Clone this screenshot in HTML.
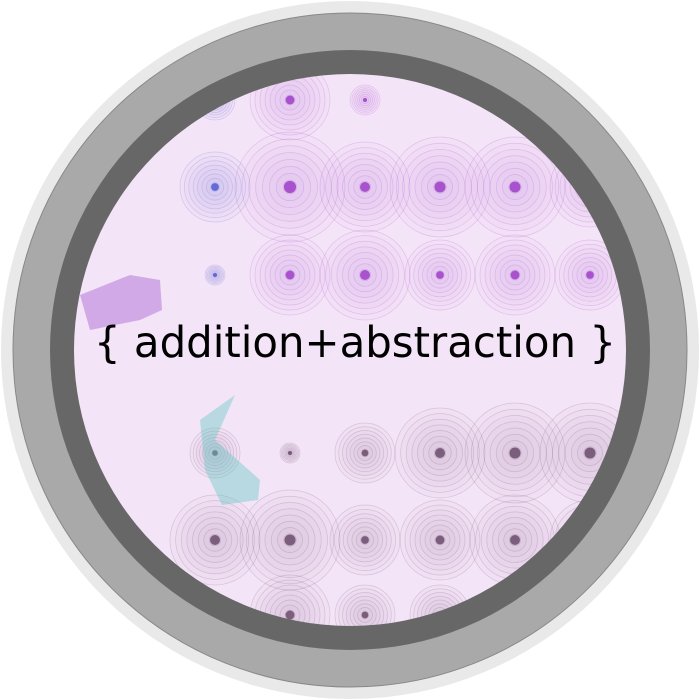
<!DOCTYPE html>
<html><head><meta charset="utf-8"><style>
html,body{margin:0;padding:0;background:#fff;width:700px;height:700px;overflow:hidden}
svg{display:block}
</style></head><body>
<svg id="art" width="700" height="700" viewBox="0 0 700 700" xmlns="http://www.w3.org/2000/svg">
<defs><clipPath id="inner"><circle cx="350" cy="350" r="276"/></clipPath></defs>
<circle cx="350" cy="350" r="349" fill="#e9e9e9"/>
<circle cx="350" cy="350" r="337" fill="#a9a9a9" stroke="#888" stroke-width="1"/>
<circle cx="350" cy="350" r="300" fill="#676767"/>
<circle cx="350" cy="350" r="276" fill="#f4e4f7"/>
<g id="marks" clip-path="url(#inner)"></g>
<text x="355" y="357" text-anchor="middle" textLength="522" lengthAdjust="spacingAndGlyphs" font-family="DejaVu Sans, Liberation Sans, sans-serif" font-size="43" fill="#000">{ addition+abstraction }</text>
</svg>
<script>
const cols=[215,290,365,440,515,590];
const rowsTop=[100,187,275];
const rowsBot=[453,540,615];
const topSizes=[[20,40,15,0,0,0],[35,55,45,50,50,40],[10,40,45,35,40,35]];
const botSizes=[[25,10,30,45,50,50],[45,50,35,40,45,40],[20,40,30,30,0,0]];
const g=document.getElementById('marks');
const NS='http://www.w3.org/2000/svg';
function ringSet(cx,cy,r,col,core){
  for(let k=1;k<=8;k++){
    const c=document.createElementNS(NS,'circle');
    
    
    c.setAttribute('cx',cx);c.setAttribute('cy',cy);c.setAttribute('r',r*k/8);
    c.setAttribute('fill',col);c.setAttribute('fill-opacity',0.025);
    c.setAttribute('stroke',col);c.setAttribute('stroke-opacity',0.22);c.setAttribute('stroke-width',0.7);
    g.appendChild(c);
  }
  const d=document.createElementNS(NS,'circle');
  
  
  d.setAttribute('cx',cx);d.setAttribute('cy',cy);d.setAttribute('r',Math.max(2,r/9));
  d.setAttribute('fill',core);d.setAttribute('fill-opacity',0.7);
  g.appendChild(d);
}
rowsTop.forEach((y,i)=>cols.forEach((x,j)=>{const s=topSizes[i][j];if(s>0)ringSet(x,y,s,j==0?'#5566cc':'#b040d0',j==0?'#3344cc':'#9020c0');}));
rowsBot.forEach((y,i)=>cols.forEach((x,j)=>{const s=botSizes[i][j];if(s>0)ringSet(x,y,s,'#705070','#503050');}));
const p1=document.createElementNS(NS,'path');


p1.setAttribute('d','M200 420 L235 395 L215 440 L260 480 L258 500 L222 505 L205 470 Z');
p1.setAttribute('fill','#60c8c0');p1.setAttribute('fill-opacity',0.4);
g.appendChild(p1);
const p2=document.createElementNS(NS,'path');


p2.setAttribute('d','M80 295 L130 275 L160 280 L162 310 L140 320 L90 330 Z');
p2.setAttribute('fill','#a050d0');p2.setAttribute('fill-opacity',0.4);
g.appendChild(p2);
</script>
</body></html>
